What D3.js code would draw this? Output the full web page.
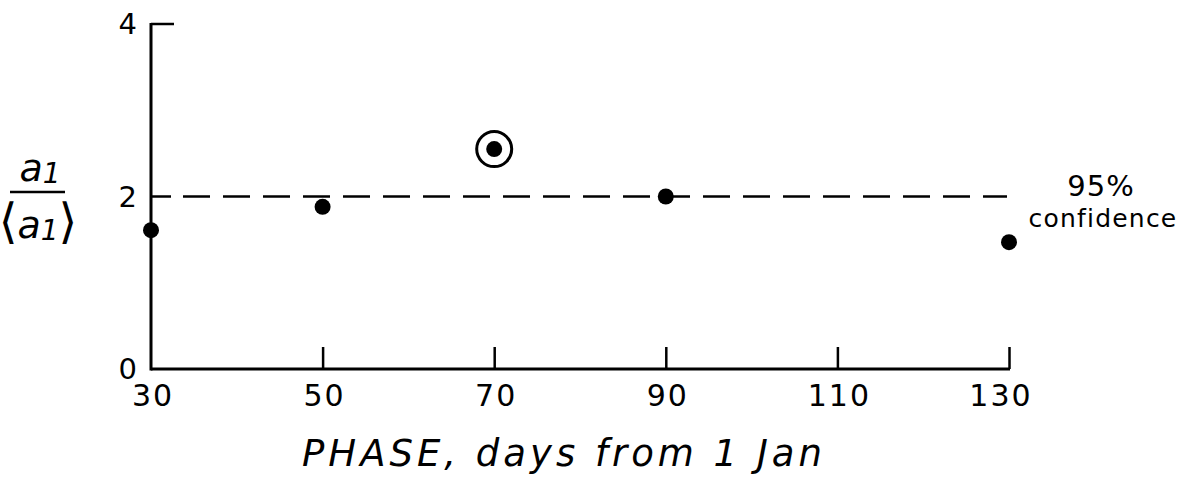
<!DOCTYPE html>
<html><head><meta charset="utf-8">
<script src="https://cdn.jsdelivr.net/npm/d3@7"></script>
<style>
html,body{margin:0;padding:0;background:#fff;}
svg{display:block;}
text{font-family:"DejaVu Sans","Liberation Sans",sans-serif;fill:#000;}
</style></head>
<body>
<script>
const phase = [30, 50, 70, 90, 130];
const ratio = [1.61, 1.88, 2.55, 2.0, 1.47];
const circled = [false, false, true, false, false];
const xTicks = [30, 50, 70, 90, 110, 130];
const yTicks = [0, 2, 4];
const confidenceLevel = 2;
const confidenceLabel = ["95%", "confidence"];
const xTitle = "PHASE, days from 1 Jan";

const W = 1196, H = 477;
const svg = d3.select("body").append("svg").attr("width", W).attr("height", H);

const x = d3.scaleLinear().domain([30, 130]).range([151, 1009]);
const y = d3.scaleLinear().domain([0, 4]).range([369, 24]);

const sw = 3;
// y axis line
svg.append("line").attr("x1", x(30)).attr("x2", x(30))
  .attr("y1", y(4) - 1).attr("y2", y(0) + 1.5)
  .attr("stroke", "#000").attr("stroke-width", sw);
// top tick at 4
svg.append("line").attr("x1", x(30)).attr("x2", x(30) + 23)
  .attr("y1", y(4)).attr("y2", y(4))
  .attr("stroke", "#000").attr("stroke-width", sw - 0.5);
// y tick at 2 (solid stub)
svg.append("line").attr("x1", x(30)).attr("x2", x(30) + 20)
  .attr("y1", y(2)).attr("y2", y(2))
  .attr("stroke", "#000").attr("stroke-width", 2.5);

// x axis via d3 axis
const xAxis = d3.axisBottom(x).tickValues(xTicks).tickSize(-22).tickSizeOuter(0).tickFormat("");
const gx = svg.append("g").attr("transform", `translate(0,${y(0)})`).call(xAxis);
gx.select(".domain").attr("stroke-width", sw).attr("d", `M${x(30)},0H${x(130) + 1}`);
gx.selectAll(".tick line").attr("stroke-width", sw - 0.5);
gx.selectAll(".tick").filter(d => d === 30).select("line").remove();

// x tick labels
svg.append("g").selectAll("text").data(xTicks).join("text")
  .attr("x", d => x(d) + (d === 130 ? -8 : 2)).attr("y", 406)
  .attr("text-anchor", "middle")
  .attr("font-size", 30).attr("letter-spacing", 2)
  .text(d => d);

// y tick labels
svg.append("g").selectAll("text").data(yTicks).join("text")
  .attr("x", 137).attr("y", d => y(d) + 10)
  .attr("text-anchor", "end")
  .attr("font-size", 29)
  .text(d => d);

// dashed confidence line
svg.append("line")
  .attr("x1", x(30) + 32).attr("x2", x(130) - 2)
  .attr("y1", y(confidenceLevel)).attr("y2", y(confidenceLevel))
  .attr("stroke", "#000").attr("stroke-width", 2.5)
  .attr("stroke-dasharray", "27,13");

// confidence label
svg.append("text").attr("x", 1101).attr("y", 196).attr("text-anchor", "middle")
  .attr("font-size", 29).attr("letter-spacing", 1).text(confidenceLabel[0]);
svg.append("text").attr("x", 1103).attr("y", 227).attr("text-anchor", "middle")
  .attr("font-size", 25).attr("letter-spacing", 1.2).text(confidenceLabel[1]);

// points
const pts = phase.map((p, i) => ({p, v: ratio[i], c: circled[i]}));
svg.append("g").selectAll("circle.dot").data(pts).join("circle")
  .attr("class", "dot")
  .attr("cx", d => x(d.p)).attr("cy", d => y(d.v))
  .attr("r", 8).attr("fill", "#000");
svg.append("g").selectAll("circle.ring").data(pts.filter(d => d.c)).join("circle")
  .attr("class", "ring")
  .attr("cx", d => x(d.p)).attr("cy", d => y(d.v))
  .attr("r", 17.5).attr("fill", "none").attr("stroke", "#000").attr("stroke-width", 3);

// x title
svg.append("text").attr("x", 564).attr("y", 466).attr("text-anchor", "middle")
  .attr("font-size", 37).attr("font-style", "italic").attr("letter-spacing", 4)
  .text(xTitle);

// y label: a1 / <a1>
const yl = svg.append("g");
const num = yl.append("text").attr("x", 40).attr("y", 181).attr("text-anchor", "middle")
  .attr("font-size", 38).attr("font-style", "italic");
num.append("tspan").text("a");
num.append("tspan").attr("font-size", 28).attr("dy", 2).text("1");
yl.append("line").attr("x1", 10).attr("x2", 65).attr("y1", 192).attr("y2", 192)
  .attr("stroke", "#000").attr("stroke-width", 2.5);
const den = yl.append("text").attr("x", 38).attr("y", 238).attr("text-anchor", "middle")
  .attr("font-size", 38).attr("font-style", "italic");
den.append("tspan").attr("font-style", "normal").attr("font-size", 48).text("⟨");
den.append("tspan").text("a");
den.append("tspan").attr("font-size", 28).attr("dy", 2).text("1");
den.append("tspan").attr("font-style", "normal").attr("font-size", 48).attr("dy", -2).text("⟩");
</script>
</body></html>
